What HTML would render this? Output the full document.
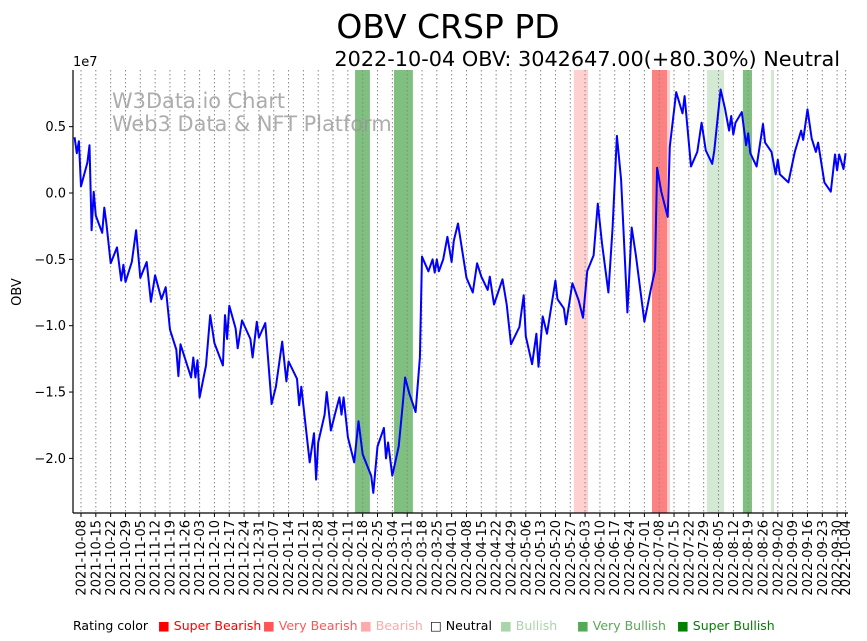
<!DOCTYPE html>
<html><head><meta charset="utf-8"><style>
html,body{margin:0;padding:0;background:#fff;width:867px;height:641px;overflow:hidden}
svg{display:block;font-family:"DejaVu Sans","Liberation Sans",sans-serif}
</style></head><body>
<svg id="chart" width="867" height="641" viewBox="0 0 867 641" xmlns="http://www.w3.org/2000/svg">
<text x="448" y="38" font-size="33" text-anchor="middle" fill="#000">OBV CRSP PD</text>
<text x="840" y="66" font-size="20.8" text-anchor="end" fill="#000">2022-10-04 OBV: 3042647.00(+80.30%) Neutral</text>
<g id="spans"></g>
<g id="grid"></g>
<text x="112" y="108" font-size="20.9" fill="#999" fill-opacity="0.8">W3Data.io Chart</text>
<text x="112" y="131" font-size="20.9" fill="#999" fill-opacity="0.8">Web3 Data &amp; NFT Platform</text>
<path id="line" fill="none" stroke="#0000ff" stroke-width="2" stroke-linejoin="round"/>
<g id="axes"></g>
<text x="73" y="66" font-size="13">1e7</text>
<text x="0" y="0" font-size="13" text-anchor="middle" transform="translate(21,292) rotate(-90)">OBV</text>
<g id="legend" font-size="12.5"></g>
</svg>
<script>
const days=[-3,-2,-1,0,3,4,5,6,7,10,11,12,14,17,19,20,21,24,26,28,31,33,35,38,40,42,45,46,47,52,53,54,55,56,59,61,63,67,68,69,70,73,74,76,80,81,83,84,87,90,92,95,97,98,102,103,104,108,110,111,112,115,116,118,120,122,123,124,126,129,131,133,137,138,140,143,144,145,147,150,152,153,155,158,160,161,164,166,167,168,169,171,173,175,176,178,182,185,187,189,192,193,195,199,201,203,207,209,210,213,215,216,218,220,224,225,228,229,232,235,237,239,242,244,246,249,251,253,255,258,260,262,266,269,271,272,274,277,278,281,284,285,288,291,293,295,298,299,302,304,306,307,308,309,312,314,315,316,319,322,323,326,328,329,330,334,337,340,341,343,345,347,348,351,354,356,357,358,360,361];
const obv=[0.42,0.30,0.39,0.05,0.23,0.36,-0.28,0.01,-0.17,-0.30,-0.11,-0.23,-0.53,-0.41,-0.66,-0.54,-0.67,-0.52,-0.28,-0.64,-0.52,-0.82,-0.62,-0.80,-0.71,-1.03,-1.18,-1.38,-1.14,-1.39,-1.24,-1.39,-1.26,-1.54,-1.30,-0.92,-1.13,-1.30,-0.92,-1.10,-0.85,-1.02,-1.17,-0.96,-1.10,-1.24,-0.97,-1.09,-0.98,-1.59,-1.46,-1.12,-1.42,-1.27,-1.40,-1.60,-1.46,-2.03,-1.81,-2.16,-1.88,-1.67,-1.50,-1.79,-1.66,-1.54,-1.67,-1.54,-1.84,-2.03,-1.72,-1.97,-2.13,-2.26,-1.91,-1.77,-2.00,-1.88,-2.13,-1.91,-1.58,-1.39,-1.51,-1.65,-1.24,-0.48,-0.59,-0.50,-0.60,-0.50,-0.59,-0.50,-0.33,-0.52,-0.36,-0.23,-0.64,-0.75,-0.53,-0.63,-0.73,-0.63,-0.84,-0.65,-0.84,-1.14,-1.01,-0.77,-1.08,-1.29,-1.06,-1.31,-0.93,-1.06,-0.66,-0.80,-0.87,-0.99,-0.68,-0.81,-0.94,-0.59,-0.47,-0.08,-0.38,-0.75,-0.26,0.43,0.10,-0.90,-0.26,-0.47,-0.97,-0.73,-0.58,0.19,0.01,-0.18,0.35,0.76,0.60,0.73,0.20,0.31,0.53,0.32,0.22,0.32,0.78,0.64,0.47,0.58,0.44,0.53,0.61,0.36,0.45,0.30,0.20,0.52,0.38,0.31,0.14,0.25,0.14,0.08,0.31,0.47,0.40,0.63,0.41,0.31,0.38,0.08,0.01,0.29,0.17,0.29,0.18,0.30];
const spanStart=[129.4,147.8,312.5,232.7,269.6,276.7,295.5,325.7];
const spanEnd=[136.4,156.7,316.8,239.4,276.7,278.1,303.6,327.2];
const spanRating=['very-bullish','very-bullish','very-bullish','bearish','very-bearish','bearish','bullish','bullish'];
const yTicks=[0.5,0.0,-0.5,-1.0,-1.5,-2.0];
const yTickLabels=['0.5','0.0','\u22120.5','\u22121.0','\u22121.5','\u22122.0'];
const startDate=new Date(Date.UTC(2021,9,8));
const tickDays=[];for(let d=0;d<=357;d+=7)tickDays.push(d);tickDays.push(361);

const NS='http://www.w3.org/2000/svg';
const L=73,R=848,T=70,B=513;
const xs=d=>81+d*2.118;
const ys=v=>193-v*132.7;
const spanColor={'very-bullish':'#7fbf7f','bullish':'#d3e9d3','bearish':'#ffd0d0','very-bearish':'#ff8080'};
function mk(tag,attrs,parent){const e=document.createElementNS(NS,tag);for(const k in attrs)e.setAttribute(k,attrs[k]);parent.appendChild(e);return e;}
const spans=document.getElementById('spans');
spanStart.forEach((s,i)=>{
 const r=mk('rect',{x:xs(s),y:T,width:xs(spanEnd[i])-xs(s),height:B-T,fill:spanColor[spanRating[i]]},spans);
 
 
});
const grid=document.getElementById('grid'),axes=document.getElementById('axes');
tickDays.forEach(d=>{
 const x=xs(d);
 const g=mk('line',{x1:x,x2:x,y1:T,y2:B,stroke:'#888','stroke-width':1,'stroke-dasharray':'1.5,2.5'},grid);
 
 
 mk('line',{x1:x,x2:x,y1:B,y2:B+4,stroke:'#000'},axes);
 const dt=new Date(startDate.getTime()+d*86400000);
 const lbl=dt.toISOString().slice(0,10);
 const t=mk('text',{x:0,y:0,'font-size':13,'text-anchor':'end',transform:`translate(${x+4.5},${B+7}) rotate(-90)`},axes);
 t.textContent=lbl;
 
 
});
yTicks.forEach((v,i)=>{
 const y=ys(v);
 mk('line',{x1:L-4,x2:L,y1:y,y2:y,stroke:'#000'},axes);
 const t=mk('text',{x:L-7,y:y+4.5,'font-size':13,'text-anchor':'end'},axes);
 t.textContent=yTickLabels[i];
 
 
});
mk('line',{x1:L,x2:L,y1:T,y2:B,stroke:'#000','stroke-width':1.2},axes);
mk('line',{x1:L,x2:R,y1:B,y2:B,stroke:'#000','stroke-width':1.2},axes);
document.getElementById('line').setAttribute('d',days.map((d,i)=>(i?'L':'M')+xs(d).toFixed(1)+','+ys(obv[i]).toFixed(1)).join(''));
const legendLabels=['Super Bearish','Very Bearish','Bearish','Neutral','Bullish','Very Bullish','Super Bullish'];
const legendColors=['#ff0000','#ff5555','#ffaaaa','#000000','#aad4aa','#55aa55','#008000'];
const legendX=[158,263,360,430,500,577,677];
const lg=document.getElementById('legend');
const lt=mk('text',{x:73,y:630},lg);lt.textContent='Rating color';


legendLabels.forEach((n,i)=>{
 const e=mk('text',{x:legendX[i],y:630,fill:legendColors[i]},lg);
 e.textContent=(n==='Neutral'?'\u25A1 ':'\u25A0 ')+n;
 
 
});
</script>
</body></html>
